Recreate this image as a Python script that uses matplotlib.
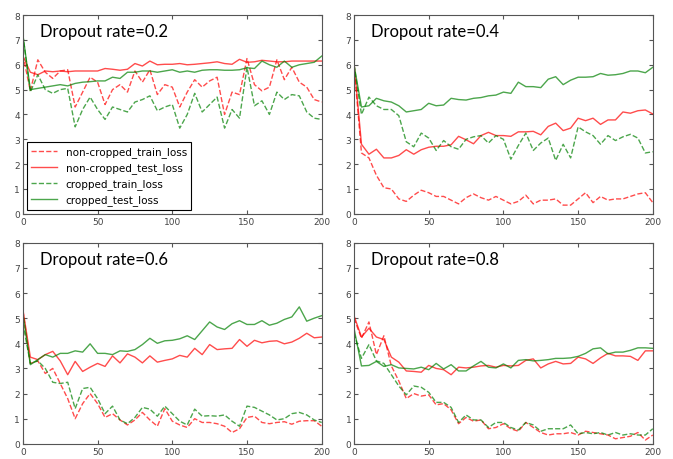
import matplotlib.pyplot as plt
import numpy as np

epochs = np.arange(0, 201, 5)

##### dropout 0.2 #####
nc_train_02 = [6.4, 4.95, 6.2, 5.7, 5.45, 5.75, 5.8, 4.3, 4.9, 5.5, 5.3, 4.4, 5.0, 5.2, 4.9, 5.75, 5.3, 5.8, 4.8, 5.2,
               5.1, 4.3, 4.9, 5.4, 5.1, 5.35, 5.5, 4.0, 4.9, 4.8, 6.25, 5.2, 4.95, 5.1, 6.2, 5.4, 5.9, 5.3, 5.1, 4.6, 4.5]
nc_test_02 = [6.35, 5.7, 5.6, 5.75, 5.72, 5.75, 5.72, 5.75, 5.75, 5.75, 5.75, 5.85, 5.82, 5.78, 5.82, 6.05, 5.95, 6.15, 6.0, 6.02,
              6.02, 6.05, 6.0, 6.02, 6.05, 6.08, 6.12, 6.05, 6.02, 6.22, 6.1, 6.12, 6.18, 6.15, 6.12, 6.12, 6.15, 6.15, 6.15, 6.15, 6.15]
c_train_02 = [7.2, 4.9, 5.6, 5.0, 4.85, 5.0, 5.05, 3.5, 4.2, 4.7, 4.2, 3.8, 4.3, 4.2, 4.1, 4.5, 4.6, 4.75, 4.15, 4.3,
              4.4, 3.45, 4.0, 4.85, 4.1, 4.4, 4.7, 3.45, 4.2, 3.85, 5.9, 4.35, 4.55, 4.0, 4.9, 4.6, 4.8, 4.75, 4.1, 3.85, 3.8]
c_test_02 = [7.2, 5.0, 5.05, 5.1, 5.15, 5.2, 5.15, 5.25, 5.3, 5.32, 5.35, 5.35, 5.5, 5.45, 5.7, 5.7, 5.75, 5.75, 5.7, 5.75,
             5.8, 5.7, 5.75, 5.7, 5.78, 5.8, 5.8, 5.78, 5.78, 5.8, 5.88, 5.85, 6.15, 6.0, 5.9, 6.15, 5.9, 6.0, 6.05, 6.1, 6.35]

##### dropout 0.4 #####
nc_train_04 = [6.0, 2.45, 2.25, 1.55, 1.05, 1.0, 0.6, 0.5, 0.75, 0.95, 0.85, 0.7, 0.7, 0.55, 0.4, 0.65, 0.8, 0.65, 0.55, 0.7,
               0.55, 0.4, 0.5, 0.75, 0.4, 0.55, 0.55, 0.6, 0.35, 0.35, 0.6, 0.85, 0.45, 0.7, 0.55, 0.6, 0.6, 0.7, 0.8, 0.85, 0.45]
nc_test_04 = [6.1, 2.8, 2.4, 2.6, 2.25, 2.25, 2.35, 2.58, 2.4, 2.58, 2.68, 2.72, 2.72, 2.78, 3.12, 2.98, 2.82, 3.15, 3.28, 3.15,
              3.15, 3.12, 3.3, 3.3, 3.32, 3.18, 3.52, 3.65, 3.35, 3.45, 3.85, 3.75, 3.85, 3.6, 3.78, 3.78, 4.1, 4.05, 4.15, 4.18, 4.02]
c_train_04 = [6.0, 4.0, 4.7, 4.35, 4.2, 4.2, 3.95, 2.9, 2.7, 3.25, 3.05, 2.55, 2.95, 2.7, 2.6, 3.0, 3.1, 3.15, 2.85, 3.15,
              3.0, 2.2, 2.75, 3.25, 2.55, 2.85, 3.05, 2.15, 2.8, 2.25, 3.5, 3.3, 3.15, 2.8, 3.15, 2.95, 3.1, 3.2, 3.05, 2.45, 2.5]
c_test_04 = [6.0, 4.3, 4.35, 4.65, 4.55, 4.5, 4.35, 4.1, 4.15, 4.2, 4.45, 4.35, 4.38, 4.65, 4.6, 4.58, 4.65, 4.68, 4.75, 4.78,
             4.9, 4.85, 5.3, 5.12, 5.12, 5.08, 5.42, 5.52, 5.2, 5.38, 5.5, 5.5, 5.52, 5.65, 5.58, 5.6, 5.65, 5.75, 5.75, 5.68, 5.9]

##### dropout 0.6 #####
nc_train_06 = [5.3, 3.2, 3.3, 2.8, 3.0, 2.4, 1.8, 1.0, 1.6, 2.0, 1.6, 1.05, 1.2, 0.95, 0.75, 0.95, 1.25, 0.95, 0.7, 1.4,
               0.9, 0.75, 0.65, 1.0, 0.85, 0.85, 0.8, 0.7, 0.45, 0.6, 1.05, 1.1, 0.85, 0.8, 0.85, 0.88, 0.78, 0.9, 0.92, 0.92, 0.7]
nc_test_06 = [5.35, 3.45, 3.35, 3.55, 3.68, 3.3, 2.75, 3.28, 2.88, 3.05, 3.2, 3.08, 3.5, 3.22, 3.58, 3.45, 3.22, 3.5, 3.25, 3.32,
              3.38, 3.52, 3.45, 3.8, 3.55, 3.95, 3.75, 3.78, 3.8, 4.15, 3.88, 4.12, 4.02, 4.08, 4.1, 3.98, 4.05, 4.2, 4.4, 4.22, 4.25]
c_train_06 = [4.8, 3.2, 3.3, 3.0, 2.45, 2.4, 2.45, 1.4, 2.2, 2.25, 1.8, 1.2, 1.5, 0.95, 0.8, 1.05, 1.45, 1.38, 1.1, 1.5,
              1.2, 0.9, 0.75, 1.38, 1.1, 1.12, 1.1, 1.15, 0.9, 0.7, 1.5, 1.45, 1.3, 1.15, 0.95, 1.0, 1.2, 1.25, 1.15, 0.95, 0.85]
c_test_06 = [5.2, 3.15, 3.35, 3.55, 3.45, 3.6, 3.6, 3.7, 3.65, 3.98, 3.6, 3.6, 3.55, 3.7, 3.68, 3.75, 3.95, 4.2, 4.0, 4.1,
             4.12, 4.18, 4.3, 4.15, 4.5, 4.85, 4.65, 4.55, 4.78, 4.9, 4.75, 4.75, 4.9, 4.72, 4.8, 4.95, 5.05, 5.45, 4.88, 5.0, 5.1]

##### dropout 0.8 #####
nc_train_08 = [5.0, 4.2, 4.85, 3.55, 4.3, 3.1, 2.5, 1.8, 2.0, 1.9, 1.95, 1.55, 1.6, 1.35, 0.8, 1.05, 0.9, 0.95, 0.6, 0.65,
               0.8, 0.6, 0.5, 0.85, 0.65, 0.45, 0.35, 0.4, 0.4, 0.45, 0.35, 0.5, 0.45, 0.4, 0.35, 0.2, 0.25, 0.3, 0.45, 0.15, 0.35]
nc_test_08 = [5.1, 4.25, 4.6, 4.25, 4.15, 3.45, 3.25, 2.9, 2.88, 2.85, 3.12, 3.0, 2.95, 2.75, 3.05, 3.02, 3.05, 3.1, 3.12, 3.05,
              3.12, 3.1, 3.12, 3.32, 3.38, 3.02, 3.18, 3.28, 3.18, 3.2, 3.45, 3.38, 3.2, 3.42, 3.6, 3.5, 3.5, 3.48, 3.32, 3.7, 3.7]
c_train_08 = [4.4, 3.4, 3.95, 3.3, 3.2, 2.75, 2.3, 1.95, 2.3, 2.25, 2.05, 1.65, 1.65, 1.45, 0.85, 1.15, 0.95, 0.95, 0.65, 0.85,
              0.85, 0.65, 0.55, 0.85, 0.75, 0.5, 0.6, 0.6, 0.6, 0.75, 0.4, 0.45, 0.4, 0.45, 0.35, 0.45, 0.35, 0.4, 0.35, 0.35, 0.6]
c_test_08 = [4.6, 3.1, 3.12, 3.28, 3.08, 3.15, 3.02, 3.0, 2.98, 3.05, 2.95, 3.2, 2.98, 3.15, 2.9, 2.9, 3.1, 3.28, 3.05, 3.02,
             3.18, 3.02, 3.32, 3.35, 3.3, 3.32, 3.35, 3.4, 3.4, 3.42, 3.48, 3.6, 3.78, 3.82, 3.58, 3.65, 3.65, 3.72, 3.82, 3.82, 3.8]

rates = ['0.2', '0.4', '0.6', '0.8']
runs = [(nc_train_02, nc_test_02, c_train_02, c_test_02),
        (nc_train_04, nc_test_04, c_train_04, c_test_04),
        (nc_train_06, nc_test_06, c_train_06, c_test_06),
        (nc_train_08, nc_test_08, c_train_08, c_test_08)]

fig = plt.figure(figsize=(6.73, 4.60), dpi=100)
boxes = [[0.034, 0.533, 0.444, 0.432], [0.526, 0.533, 0.444, 0.432],
         [0.034, 0.033, 0.444, 0.437], [0.526, 0.033, 0.444, 0.437]]

for i in range(4):
    ax = fig.add_axes(boxes[i])
    nc_tr, nc_te, c_tr, c_te = runs[i]
    ax.plot(epochs, nc_tr, ls='--', c='r', alpha=0.7, lw=1, label='non-cropped_train_loss')
    ax.plot(epochs, nc_te, c='r', alpha=0.7, lw=1, label='non-cropped_test_loss')
    ax.plot(epochs, c_tr, ls='--', c='g', alpha=0.7, lw=1, label='cropped_train_loss')
    ax.plot(epochs, c_te, c='g', alpha=0.7, lw=1, label='cropped_test_loss')
    ax.set_xlim(0, 200)
    ax.set_ylim(0, 8)
    ax.set_xticks([0, 50, 100, 150, 200])
    ax.set_yticks(range(9))
    ax.tick_params(direction='in', top=True, right=True, labelsize=6.5, labelcolor='#444444',
                   length=3, color='#555555', pad=2)
    for s in ax.spines.values():
        s.set_color('#555555')
    ax.text(0.057, 0.92, 'Dropout rate=' + rates[i], transform=ax.transAxes,
            fontsize=12, family='Lato', va='center')
    if i == 0:
        leg = ax.legend(loc='lower left', fontsize=7.5, fancybox=False, framealpha=1,
                        edgecolor='black', handlelength=2.5, borderaxespad=0.4)
        leg.get_frame().set_linewidth(0.8)

plt.savefig('out.png', dpi=100)
